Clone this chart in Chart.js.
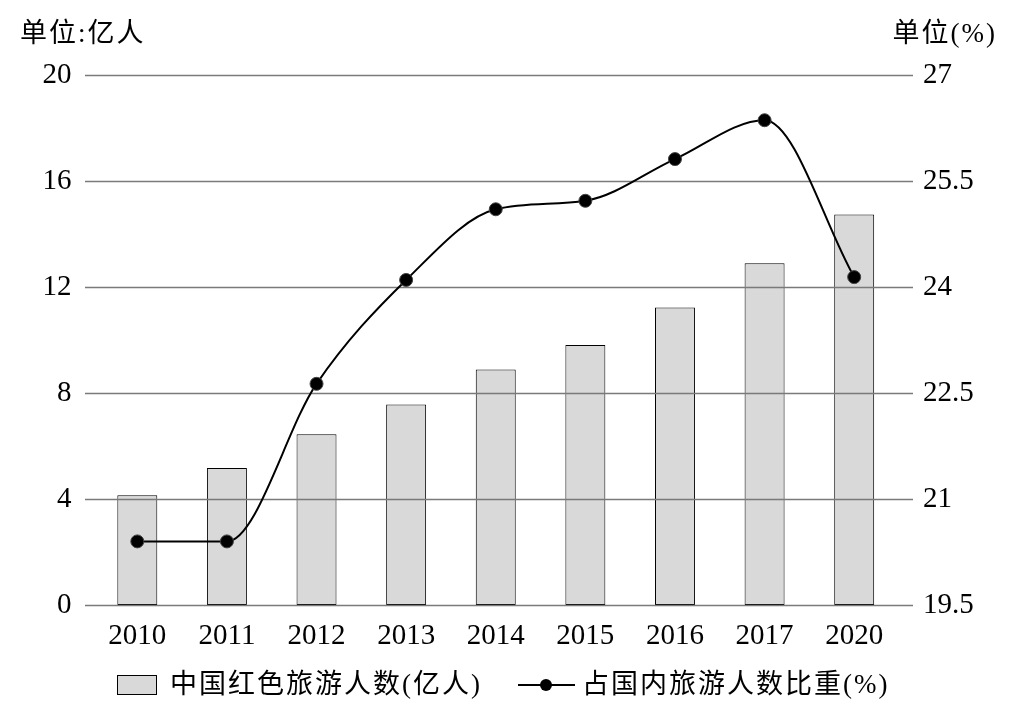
<!DOCTYPE html>
<html>
<head>
<meta charset="utf-8">
<script src="https://cdn.jsdelivr.net/npm/chart.js@4/dist/chart.umd.min.js"></script>
<style>
html,body{margin:0;padding:0;background:#fff;}
#wrap{width:1021px;height:714px;position:relative;}
</style>
</head>
<body>
<div id="wrap"><canvas id="c" width="1021" height="714"></canvas></div>
<script>
const categories = ['2010','2011','2012','2013','2014','2015','2016','2017','2020'];
const redTourism = [4.14, 5.17, 6.44, 7.57, 8.89, 9.81, 11.23, 12.9, 14.74];
const shareOfDomestic = [20.4, 20.4, 22.63, 24.1, 25.1, 25.22, 25.81, 26.36, 24.14];
const leftTicks = [0, 4, 8, 12, 16, 20];
const rightTicks = [19.5, 21, 22.5, 24, 25.5, 27];
const leftUnit = '单位:亿人';
const rightUnit = '单位(%)';
const barLabel = '中国红色旅游人数(亿人)';
const lineLabel = '占国内旅游人数比重(%)';

const CJK_FONT = "27px 'Liberation Serif', 'Noto Sans CJK SC', serif";

const decor = {
  id: 'decor',
  afterDatasetDraw(chart, args) {
    if (args.meta.type !== 'bar') return;
    const ctx = chart.ctx, y = chart.scales.y;
    ctx.save();
    ctx.strokeStyle = '#7a7a7a';
    ctx.lineWidth = 1.3;
    leftTicks.forEach(v => {
      const py = Math.round(y.getPixelForValue(v)) + 0.5;
      ctx.beginPath(); ctx.moveTo(85, py); ctx.lineTo(913, py); ctx.stroke();
    });
    ctx.restore();
  },
  afterDraw(chart) {
    const ctx = chart.ctx;
    ctx.save();
    ctx.fillStyle = '#000';
    ctx.font = CJK_FONT;
    ctx.letterSpacing = '2px';
    ctx.textBaseline = 'middle';
    ctx.textAlign = 'left';
    ctx.fillText(leftUnit, 20, 35);
    ctx.textAlign = 'right';
    ctx.fillText(rightUnit, 997, 35);
    // legend
    ctx.textAlign = 'left';
    ctx.fillStyle = '#d9d9d9';
    ctx.fillRect(117.5, 675.5, 39, 19);
    ctx.strokeStyle = '#000'; ctx.lineWidth = 1;
    ctx.strokeRect(117.5, 675.5, 39, 19);
    ctx.fillStyle = '#000';
    ctx.fillText(barLabel, 170, 686);
    ctx.lineWidth = 2;
    ctx.beginPath(); ctx.moveTo(518, 685); ctx.lineTo(575, 685); ctx.stroke();
    ctx.beginPath(); ctx.arc(546, 685, 6, 0, Math.PI * 2); ctx.fill();
    ctx.fillText(lineLabel, 582, 686);
    ctx.restore();
  }
};

const numFont = { family: "'Liberation Serif', serif", size: 29 };

new Chart(document.getElementById('c'), {
  data: {
    labels: categories,
    datasets: [
      {
        type: 'bar', label: barLabel, data: redTourism, yAxisID: 'y', order: 1,
        backgroundColor: '#d9d9d9', borderColor: '#000', borderWidth: 1,
        borderSkipped: false, barPercentage: 0.446, categoryPercentage: 1
      },
      {
        type: 'line', label: lineLabel, data: shareOfDomestic, yAxisID: 'y1', order: 0,
        borderColor: '#000', borderWidth: 2, backgroundColor: '#000',
        pointRadius: 6.5, pointBackgroundColor: '#000', pointBorderColor: '#444', pointBorderWidth: 1,
        cubicInterpolationMode: 'monotone', fill: false
      }
    ]
  },
  options: {
    responsive: false, animation: false, devicePixelRatio: 1,
    layout: { padding: { top: 75, bottom: 0, left: 0, right: 0 } },
    plugins: { legend: { display: false }, tooltip: { enabled: false } },
    scales: {
      x: {
        grid: { display: false }, border: { display: false },
        ticks: { color: '#000', font: numFont, padding: 6, maxRotation: 0 },
        afterFit(s) { s.height = 109; }
      },
      y: {
        position: 'left', min: 0, max: 20,
        grid: { display: false }, border: { display: false },
        afterBuildTicks(s) { s.ticks = leftTicks.map(v => ({ value: v })); },
        ticks: { color: '#000', font: numFont, padding: 13 },
        afterFit(s) { s.width = 92.5; }
      },
      y1: {
        position: 'right', min: 19.5, max: 27,
        grid: { display: false }, border: { display: false },
        afterBuildTicks(s) { s.ticks = rightTicks.map(v => ({ value: v })); },
        ticks: { color: '#000', font: numFont, padding: 16 },
        afterFit(s) { s.width = 122; }
      }
    }
  },
  plugins: [decor]
});
</script>
</body>
</html>
